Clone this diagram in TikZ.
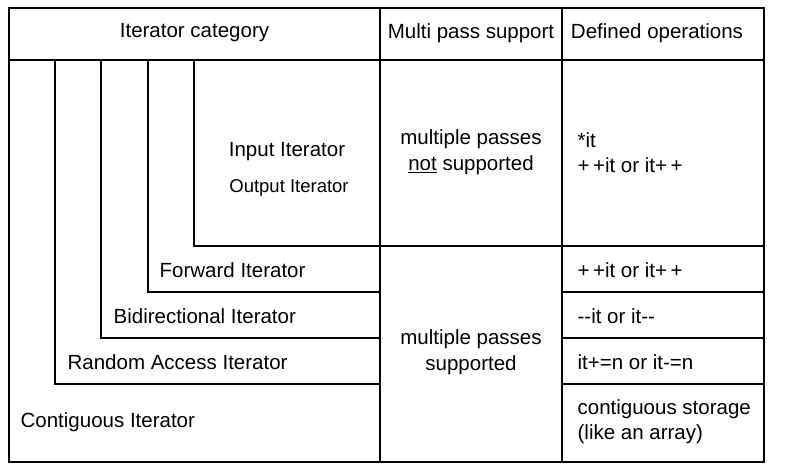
\documentclass[tikz,border=0pt]{standalone}
\usepackage{fontspec}
\setmainfont{Liberation Sans}
\begin{document}
\begin{tikzpicture}[x=1pt,y=-1pt,line width=1.3pt,
  t/.style={font=\fontsize{20.5}{25}\selectfont,inner sep=0pt,align=left},
  c/.style={font=\fontsize{20.5}{26}\selectfont,inner sep=0pt,align=center}]
\useasboundingbox (0,0) rectangle (787,474);
\draw (9,8) rectangle (764,462);
\draw (9,60) -- (764,60);
\draw (380,8) -- (380,462);
\draw (562,8) -- (562,462);
\draw (55,60) -- (55,384) -- (380,384);
\draw (101,60) -- (101,338) -- (380,338);
\draw (148,60) -- (148,292) -- (380,292);
\draw (194,60) -- (194,246) -- (764,246);
\draw (562,292) -- (764,292);
\draw (562,338) -- (764,338);
\draw (562,384) -- (764,384);
\node[c] (h1) at (194.5,33) {Iterator category};
\node[c] (h2) at (471,33) {Multi pass support};
\node[c] (h3) at (657,33) {Defined operations};
\node[t] (ii) at (287,152) {Input Iterator};
\node[t,font=\fontsize{18.5}{22}\selectfont] (oi) at (289,188) {Output Iterator};
\node[t,anchor=west] (fi) at (159,270) {Forward Iterator};
\node[t,anchor=west] (bi) at (113,316) {Bidirectional Iterator};
\node[t,anchor=west] (ri) at (67,362) {Random Access Iterator};
\node[t,anchor=west] (ci) at (20,422) {Contiguous Iterator};
\node[c] (m1) at (471,152) {multiple passes\\\underline{not} supported};
\node[c] (m2) at (471,352) {multiple passes\\supported};
\node[t,anchor=west,text depth=0pt] (o1) at (577,153) {*it\\+\,+it or it+\,+};
\node[t,anchor=west] (o2) at (577,270) {+\,+it or it+\,+};
\node[t,anchor=west] (o3) at (577,316) {-{}-it or it-{}-};
\node[t,anchor=west] (o4) at (577,362) {it+=n or it-=n};
\node[t,anchor=west] (o5) at (577,422) {contiguous storage\\(like an array)};
\end{tikzpicture}
\end{document}
